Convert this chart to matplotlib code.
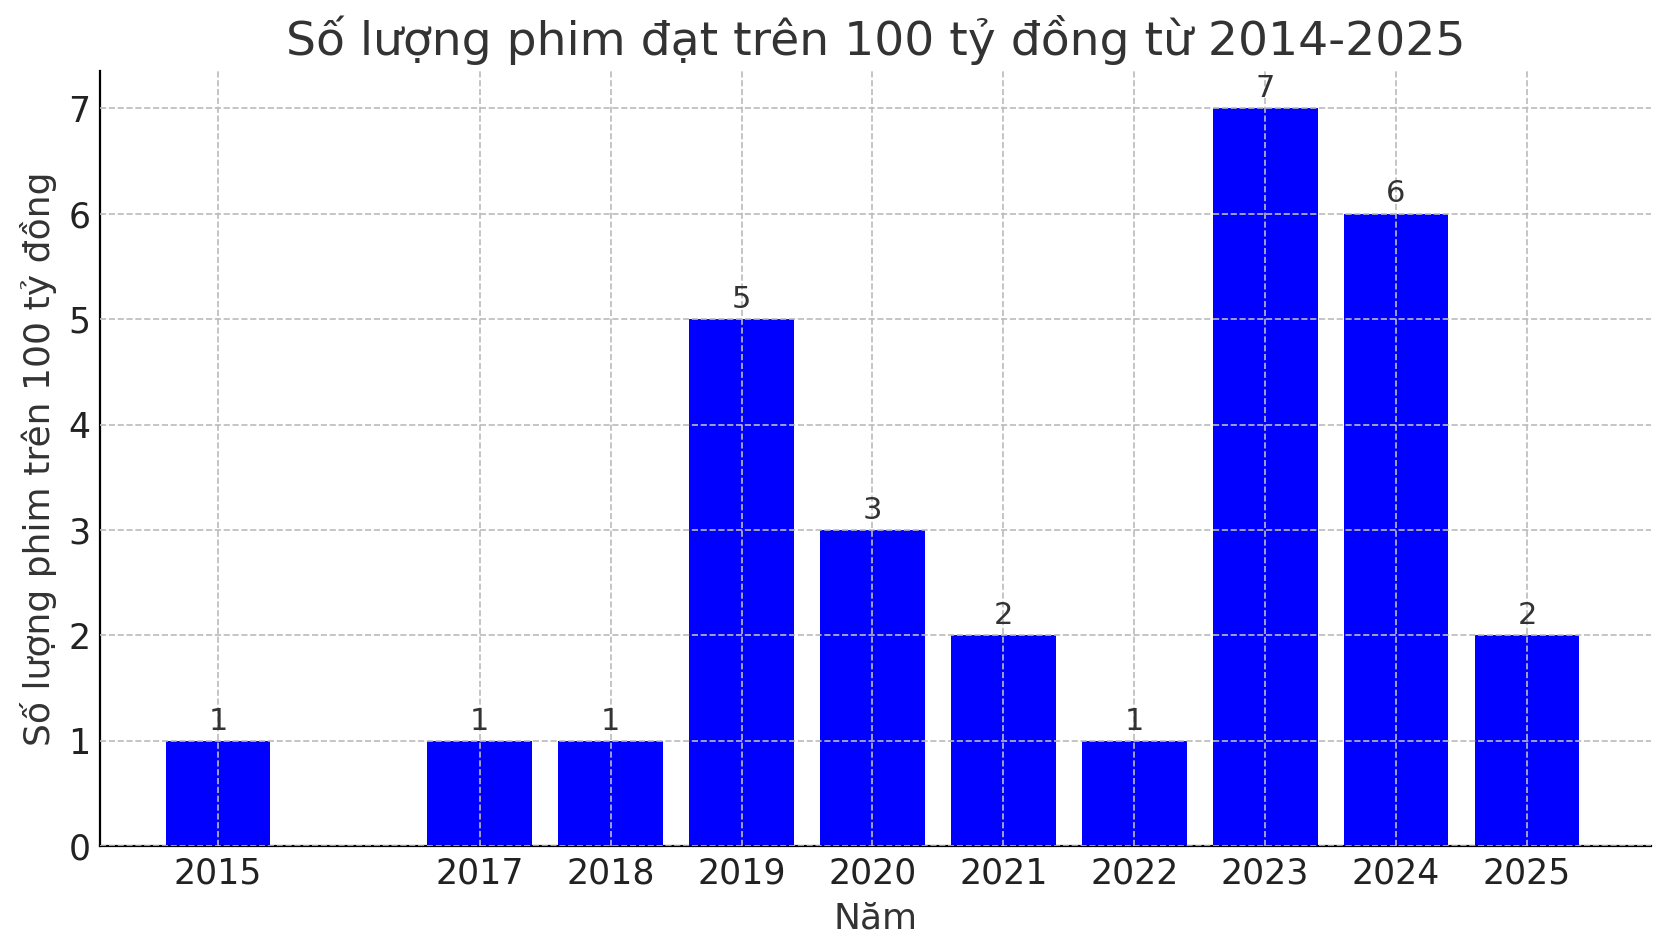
import matplotlib
matplotlib.use("Agg")
import matplotlib.pyplot as plt

years = [2015, 2017, 2018, 2019, 2020, 2021, 2022, 2023, 2024, 2025]
counts = [1, 1, 1, 5, 3, 2, 1, 7, 6, 2]

plt.rcParams['font.family'] = ['DejaVu Sans']
fig, ax = plt.subplots(figsize=(8.34, 4.755), dpi=200)
bars = ax.bar(years, counts, color='#0000ff', width=0.8, zorder=1)
for x, v in zip(years, counts):
    ax.text(x, v + 0.05, str(v), ha='center', va='bottom', fontsize=11, color='#333333')
ax.set_xticks(years)
ax.set_xticklabels([str(y) for y in years])
ax.set_yticks(range(0, 8))
ax.tick_params(labelsize=12.5, colors='#222222', length=0)
ax.grid(True, linestyle='--', color='#bbbbbb', linewidth=0.6, zorder=2)
ax.set_axisbelow(False)
ax.set_ylim(0, 7.35)
ax.set_xlim(2014.1, 2025.95)
for s in ['top', 'right']:
    ax.spines[s].set_visible(False)
ax.set_title('Số lượng phim đạt trên 100 tỷ đồng từ 2014-2025', fontsize=17, color='#333333')
ax.set_xlabel('Năm', fontsize=13, color='#333333')
ax.set_ylabel('Số lượng phim trên 100 tỷ đồng', fontsize=13, color='#333333')
fig.subplots_adjust(left=0.06, right=0.99, top=0.925, bottom=0.11)
fig.savefig('out.png', dpi=200)
